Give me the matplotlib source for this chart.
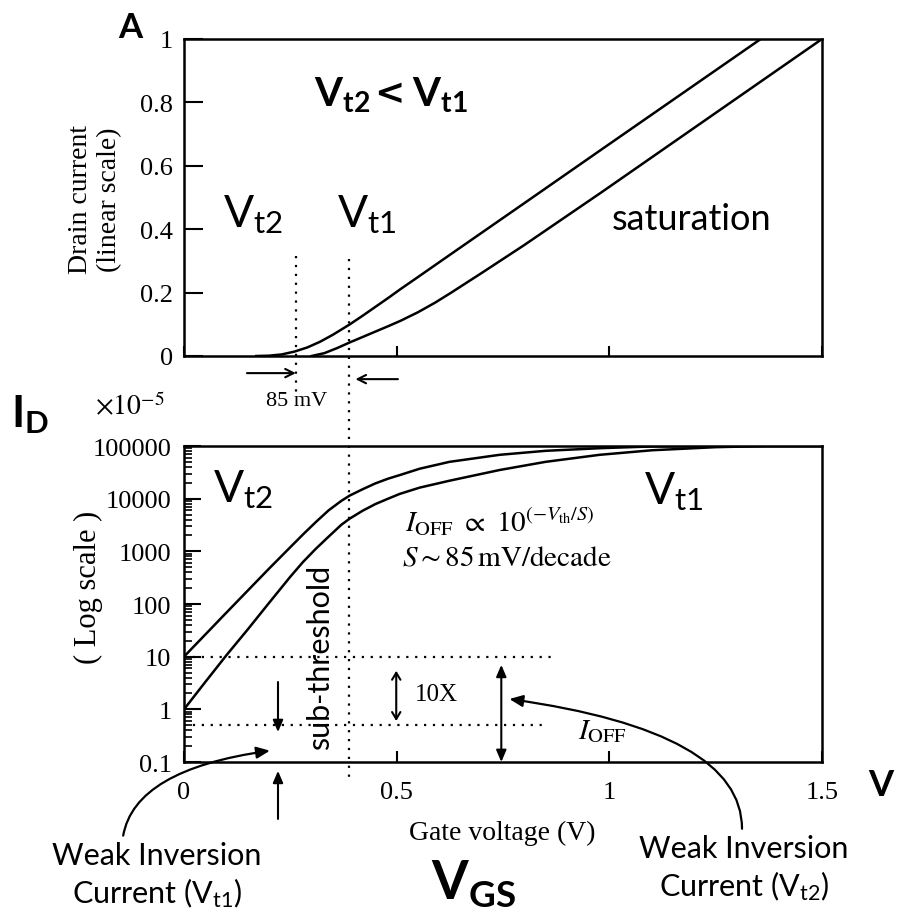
import matplotlib
matplotlib.use("Agg")
import matplotlib.pyplot as plt
from matplotlib import transforms
from matplotlib.lines import Line2D
from matplotlib.ticker import FixedLocator, NullFormatter

plt.rcParams['mathtext.fontset'] = 'custom'
plt.rcParams['mathtext.rm'] = 'Lato'
plt.rcParams['mathtext.it'] = 'Lato:italic'
plt.rcParams['mathtext.bf'] = 'Lato:bold'

SANS = 'Lato'
SERIF = 'Liberation Serif'

# linear-scale drain current (arbitrary units) vs gate voltage
lin_v_t2 = [0.17, 0.20, 0.23, 0.26, 0.29, 0.32, 0.35, 0.39, 0.42, 0.45, 0.48, 0.509, 0.55, 0.626, 0.80, 0.98, 1.356]
lin_i_t2 = [0.0, 0.001, 0.005, 0.014, 0.027, 0.045, 0.067, 0.10, 0.127, 0.155, 0.183, 0.211, 0.249, 0.32, 0.482, 0.65, 1.0]
lin_v_t1 = [0.30, 0.33, 0.36, 0.39, 0.42, 0.45, 0.48, 0.509, 0.55, 0.59, 0.626, 0.70, 0.80, 0.98, 1.5]
lin_i_t1 = [0.0, 0.009, 0.025, 0.043, 0.06, 0.077, 0.094, 0.111, 0.138, 0.168, 0.198, 0.262, 0.35, 0.515, 1.0]

# log-scale drain current (x1e-5)
log_v_t2 = [0, 0.1, 0.2, 0.25, 0.28, 0.31, 0.34, 0.37, 0.39, 0.42, 0.45, 0.48, 0.507, 0.554, 0.624, 0.742,
            0.85, 0.98, 1.1, 1.3, 1.5]
log_i_t2 = [10, 69, 470, 1200, 2100, 3600, 6000, 9100, 11500, 15100, 19500, 24000, 28000, 37000, 50000, 68000,
            81000, 91000, 98000, 100000, 100000]
log_v_t1 = [0, 0.05, 0.1, 0.15, 0.2, 0.25, 0.28, 0.31, 0.34, 0.37, 0.39, 0.42, 0.45, 0.48, 0.507, 0.554, 0.624,
            0.742, 0.85, 0.977, 1.1, 1.25, 1.37, 1.5]
log_i_t1 = [1, 3.3, 10.7, 33, 105, 330, 630, 1120, 1900, 3200, 4200, 5900, 7900, 10000, 12300, 16200, 21900,
            35000, 50000, 68000, 83000, 95000, 100000, 100000]

vt2 = 0.263
vt1 = 0.388

lin_yticks = [0, 0.2, 0.4, 0.6, 0.8, 1]
lin_ylabels = ['0', '0.2', '0.4', '0.6', '0.8', '1']
log_yticks = [0.1, 1, 10, 100, 1000, 10000, 100000]
log_ylabels = ['0.1', '1', '10', '100', '1000', '10000', '100000']
xticks = [0, 0.5, 1, 1.5]
xlabels = ['0', '0.5', '1', '1.5']

W, H = 898, 920
fig = plt.figure(figsize=(W / 100, H / 100), dpi=100)


def fx(px):
    return px / W


def fy(py):
    return 1 - py / H


ax1 = fig.add_axes([fx(184), fy(357), fx(822) - fx(184), fy(40) - fy(357)])
ax2 = fig.add_axes([fx(184), fy(763), fx(822) - fx(184), fy(447) - fy(763)])

lw = 1.8
for ax in (ax1, ax2):
    for s in ax.spines.values():
        s.set_linewidth(lw)
    ax.set_xlim(0, 1.5)

# top panel
ax1.plot(lin_v_t2, lin_i_t2, color='black', lw=lw)
ax1.plot(lin_v_t1, lin_i_t1, color='black', lw=lw)
ax1.set_ylim(0, 1)
ax1.set_yticks(lin_yticks)
ax1.set_yticklabels(lin_ylabels, family=SERIF, fontsize=19)
ax1.set_xticks(xticks)
ax1.set_xticklabels([])
ax1.tick_params(axis='y', direction='in', length=14, width=1.5, pad=8)
ax1.tick_params(axis='x', direction='in', length=7, width=1.5)
fig.text(fx(95), fy(200), 'Drain current\n(linear scale)', family=SERIF, fontsize=20, rotation=90,
         ha='center', va='center', linespacing=1.2)

# bottom panel
ax2.plot(log_v_t2, log_i_t2, color='black', lw=lw)
ax2.plot(log_v_t1, log_i_t1, color='black', lw=lw)
ax2.set_yscale('log')
ax2.set_ylim(0.1, 100000)
ax2.set_yticks(log_yticks)
ax2.set_yticklabels(log_ylabels, family=SERIF, fontsize=19)
minor = [m * d for d in log_yticks[:-1] for m in range(2, 10)]
ax2.yaxis.set_minor_locator(FixedLocator(minor))
ax2.yaxis.set_minor_formatter(NullFormatter())
ax2.xaxis.set_minor_locator(FixedLocator([]))
ax2.set_xticks(xticks)
ax2.set_xticklabels(xlabels, family=SERIF, fontsize=19)
ax2.tick_params(axis='y', which='major', direction='in', length=12, width=1.5, pad=9)
ax2.tick_params(axis='y', which='minor', direction='in', length=6, width=1.2, left=True)
ax2.tick_params(axis='x', direction='in', length=8, width=1.5, pad=14)
fig.text(fx(88), fy(587), '( Log scale )', family=SERIF, fontsize=22, rotation=90, ha='center', va='center')

# dotted guide lines
dot = dict(color='black', lw=1.6, linestyle=(0, (1, 3)))
tr1 = transforms.blended_transform_factory(ax1.transData, fig.transFigure)
fig.add_artist(Line2D([vt2, vt2], [fy(257), fy(393)], transform=tr1, **dot))
fig.add_artist(Line2D([vt1, vt1], [fy(260), fy(780)], transform=tr1, **dot))
ax2.plot([0, 0.866], [10, 10], **dot)
ax2.plot([0, 0.843], [0.5, 0.5], **dot)

# 85 mV arrows
ax1.annotate('', xy=(vt2, -0.054), xytext=(0.148, -0.054),
             arrowprops=dict(arrowstyle='->,head_length=0.6,head_width=0.3', lw=1.5, shrinkA=0, shrinkB=0),
             annotation_clip=False)
ax1.annotate('', xy=(0.403, -0.073), xytext=(0.503, -0.073),
             arrowprops=dict(arrowstyle='->,head_length=0.6,head_width=0.3', lw=1.5, shrinkA=0, shrinkB=0),
             annotation_clip=False)
fig.text(fx(297), fy(402), '85 mV', family=SERIF, fontsize=16, ha='center', va='center')

# bottom-panel arrows
ax2.annotate('', xy=(0.499, 0.6), xytext=(0.499, 5.4),
             arrowprops=dict(arrowstyle='<->,head_length=0.5,head_width=0.3', lw=1.5, shrinkA=0, shrinkB=0))
ax2.annotate('', xy=(0.746, 0.1), xytext=(0.746, 7),
             arrowprops=dict(arrowstyle='<|-|>,head_length=0.7,head_width=0.3', lw=1.5, color='black',
                             shrinkA=0, shrinkB=0), annotation_clip=False)
ax2.annotate('', xy=(0.221, 0.37), xytext=(0.221, 3.3),
             arrowprops=dict(arrowstyle='-|>,head_length=0.7,head_width=0.3', lw=1.5, color='black',
                             shrinkA=0, shrinkB=0))
ax2.annotate('', xy=(0.221, 0.068), xytext=(0.221, 0.0083),
             arrowprops=dict(arrowstyle='-|>,head_length=0.7,head_width=0.3', lw=1.5, color='black',
                             shrinkA=0, shrinkB=0), annotation_clip=False)
ax2.annotate('', xy=(0.202, 0.164), xytext=(-0.143, 0.004),
             arrowprops=dict(arrowstyle='-|>,head_length=0.8,head_width=0.35', lw=1.6, color='black',
                             shrinkA=0, shrinkB=0, connectionstyle='angle3,angleA=80,angleB=8'),
             annotation_clip=False)
ax2.annotate('', xy=(0.765, 1.57), xytext=(1.312, 0.0054),
             arrowprops=dict(arrowstyle='-|>,head_length=0.8,head_width=0.35', lw=1.6, color='black',
                             shrinkA=0, shrinkB=0, connectionstyle='angle3,angleA=90,angleB=-8'),
             annotation_clip=False)

# texts
fig.text(fx(130), fy(28), 'A', family=SANS, weight='bold', fontsize=25, ha='center', va='center')
fig.text(fx(342), fy(107), r'$\mathbf{V_{t2}}$', fontsize=29, ha='center', va='baseline')
fig.text(fx(389), fy(104), '<', family='DejaVu Sans', weight='bold', fontsize=26, ha='center', va='baseline')
fig.text(fx(440), fy(107), r'$\mathbf{V_{t1}}$', fontsize=29, ha='center', va='baseline')
fig.text(fx(253), fy(215), r'$\mathrm{V_{t2}}$', fontsize=32, ha='center', va='center')
fig.text(fx(367), fy(215), r'$\mathrm{V_{t1}}$', fontsize=32, ha='center', va='center')
fig.text(fx(692), fy(220), 'saturation', family=SANS, fontsize=26, ha='center', va='center')

fig.text(fx(243), fy(490), r'$\mathrm{V_{t2}}$', fontsize=32, ha='center', va='center')
fig.text(fx(674), fy(492), r'$\mathrm{V_{t1}}$', fontsize=32, ha='center', va='center')
fig.text(fx(405), fy(522), r'$I_{\mathrm{OFF}}\ \propto\ 10^{(-V_{\mathrm{th}}/S)}$', math_fontfamily='stix',
         fontsize=21, ha='left', va='center')
fig.text(fx(402), fy(558), r'$S\sim 85\,\mathrm{mV/decade}$', math_fontfamily='stix',
         fontsize=21, ha='left', va='center')
fig.text(fx(320), fy(657), 'sub-threshold', family=SANS, fontsize=22, rotation=90, ha='center', va='center')
fig.text(fx(415), fy(695), '10X', family=SERIF, fontsize=18, ha='left', va='center')
fig.text(fx(603), fy(731), r'$I_{\mathrm{OFF}}$', math_fontfamily='stix', fontsize=21, ha='center', va='center')

fig.text(fx(130), fy(407), r'$\times10^{-5}$', math_fontfamily='stix', fontsize=20, ha='center', va='center')
fig.text(fx(30), fy(415), r'$\mathbf{I_D}$', fontsize=32, ha='center', va='center')
fig.text(fx(881), fy(786), 'V', family=SANS, weight='bold', fontsize=26, ha='center', va='center')
fig.text(fx(502), fy(833), 'Gate voltage (V)', family=SERIF, fontsize=20, ha='center', va='center')
fig.text(fx(474), fy(885), r'$\mathbf{V_{GS}}$', fontsize=38, ha='center', va='center')
fig.text(fx(157), fy(876), 'Weak Inversion\n' + r'Current ($\mathrm{V_{t1}}$)', family=SANS, fontsize=22,
         ha='center', va='center', linespacing=1.25)
fig.text(fx(744), fy(869), 'Weak Inversion\n' + r'Current ($\mathrm{V_{t2}}$)', family=SANS, fontsize=22,
         ha='center', va='center', linespacing=1.25)

fig.savefig('out.png', dpi=100)
